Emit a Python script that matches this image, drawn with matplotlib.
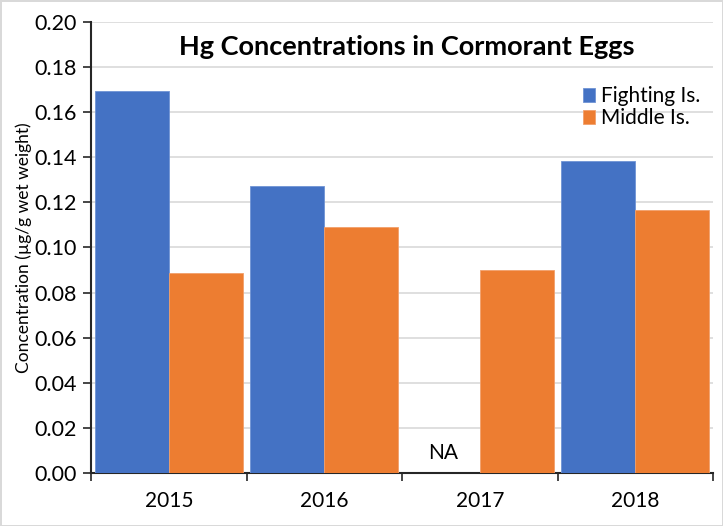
import matplotlib
matplotlib.use("Agg")
import matplotlib.pyplot as plt
import numpy as np

years = ["2015", "2016", "2017", "2018"]
fighting = [0.1694, 0.1271, np.nan, 0.1385]
middle = [0.0889, 0.1092, 0.0902, 0.1167]
yticks = [0.00, 0.02, 0.04, 0.06, 0.08, 0.10, 0.12, 0.14, 0.16, 0.18, 0.20]

plt.rcParams['font.family'] = ['Lato', 'DejaVu Sans']

fig = plt.figure(figsize=(7.23, 5.26), dpi=100)
fig.patch.set_edgecolor("#d9d9d9")
fig.patch.set_linewidth(2)
ax = fig.add_axes([0.1259, 0.1008, 0.8603, 0.8574])

x = np.arange(len(years))
w = 0.476
fv = np.array(fighting)
ok = ~np.isnan(fv)
ax.bar(x[ok] - w / 2, fv[ok], width=w, color="#4472c4",
       label="Fighting Is.", edgecolor="#6f93d4", linewidth=0.6, zorder=3)
ax.bar(x + w / 2, middle, width=w, color="#ed7d31",
       label="Middle Is.", edgecolor="#f2a06b", linewidth=0.6, zorder=3)

# missing value marker
for i in x[~ok]:
    ax.text(i - w / 2, 0.009, "NA", ha="center", va="center", fontsize=15)

ax.set_xlim(-0.5, len(years) - 0.5)
ax.set_ylim(0, 0.20)
ax.set_yticks(yticks)
ax.set_yticklabels([f"{t:.2f}" for t in yticks], fontsize=15.5)
ax.set_xticks(x)
ax.set_xticklabels(years, fontsize=15)
ax.set_xticks(np.arange(len(years) + 1) - 0.5, minor=True)
ax.tick_params(axis="x", which="major", length=0, pad=13)
ax.tick_params(axis="x", which="minor", length=6, width=1.2, color="#262626")
ax.tick_params(axis="y", length=6, width=1.2, color="#262626", pad=4)

ax.grid(axis="y", color="#d9d9d9", linewidth=1.2, zorder=0)
ax.set_axisbelow(True)
for s in ["top", "right"]:
    ax.spines[s].set_visible(False)
ax.spines["left"].set_color("#262626")
ax.spines["left"].set_linewidth(1.5)
ax.spines["bottom"].set_color("#262626")
ax.spines["bottom"].set_linewidth(1.5)

ax.set_ylabel("Concentration (µg/g wet weight)", fontsize=12.5, labelpad=2)
fig.text(0.563, 0.91, "Hg Concentrations in Cormorant Eggs", ha="center",
         va="center", fontsize=19.5, fontweight="bold")

ax.legend(loc="upper right", bbox_to_anchor=(1.0, 0.885), frameon=False,
          fontsize=15, handlelength=0.6, handleheight=0.6, handletextpad=0.3,
          labelspacing=0.1, borderaxespad=0.2)

fig.savefig("out.png", dpi=100)
